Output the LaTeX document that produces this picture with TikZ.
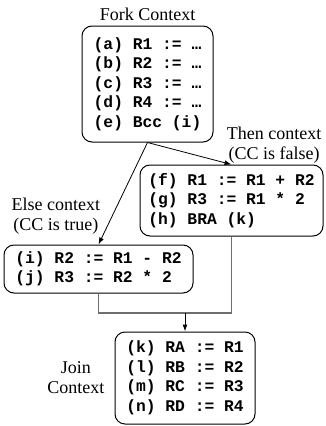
\documentclass[tikz,border=0pt]{standalone}
\usepackage{fontspec}
\setmainfont{Liberation Serif}
\setmonofont{Liberation Mono}
\usetikzlibrary{arrows.meta}
\definecolor{busgray}{RGB}{110,110,110}

\begin{document}
\begin{tikzpicture}[x=1pt, y=-1pt, >={Latex[length=7pt,width=5pt]},
    ctx/.style={draw, line width=1pt, rounded corners=10pt, align=left, inner sep=0pt,
        font=\fontsize{16.3}{19.5}\selectfont\ttfamily\bfseries},
    lbl/.style={align=center, inner sep=1pt, font=\fontsize{18}{20}\selectfont}]
    \useasboundingbox (0,0) rectangle (325,426);
    \node [ctx, minimum width=131pt, minimum height=116pt,
        label={[lbl, label distance=4pt]above:{Fork Context}}] (Fork) at (147.5,84)
        {(a) R1 := …\\(b) R2 := …\\(c) R3 := …\\(d) R4 := …\\(e) Bcc (i)};
    \node [ctx, minimum width=183pt, minimum height=71pt,
        label={[lbl, anchor=south east, xshift=-1pt]north east:{Then context\\(CC is false)}}] (Then) at (231.5,200.5)
        {(f) R1 := R1 + R2\\(g) R3 := R1 * 2\\(h) BRA (k)};
    \node [ctx, minimum width=189pt, minimum height=48pt,
        label={[lbl, anchor=south west, xshift=7pt, yshift=9pt]north west:{Else context\\(CC is true)}}] (Else) at (98.5,269)
        {(i) R2 := R1 - R2\\(j) R3 := R2 * 2};
    \node [ctx, minimum width=140pt, minimum height=92pt,
        label={[lbl, label distance=9pt]left:{Join\\Context}}] (Join) at (185,378)
        {(k) RA := R1\\(l) RB := R2\\(m) RC := R3\\(n) RD := R4};
    \coordinate (merge) at (Join.north |- 0,313);
    \draw [->, line width=0.8pt] (Fork.south) -- (Then.north);
    \draw [->, line width=0.8pt] (Fork.south) -- (Else.north);
    \draw [busgray, line width=1.2pt] (Else.south) |- (merge) -| (Then.south);
    \draw [->, line width=1pt] (merge) -- (Join.north);
\end{tikzpicture}
\end{document}
